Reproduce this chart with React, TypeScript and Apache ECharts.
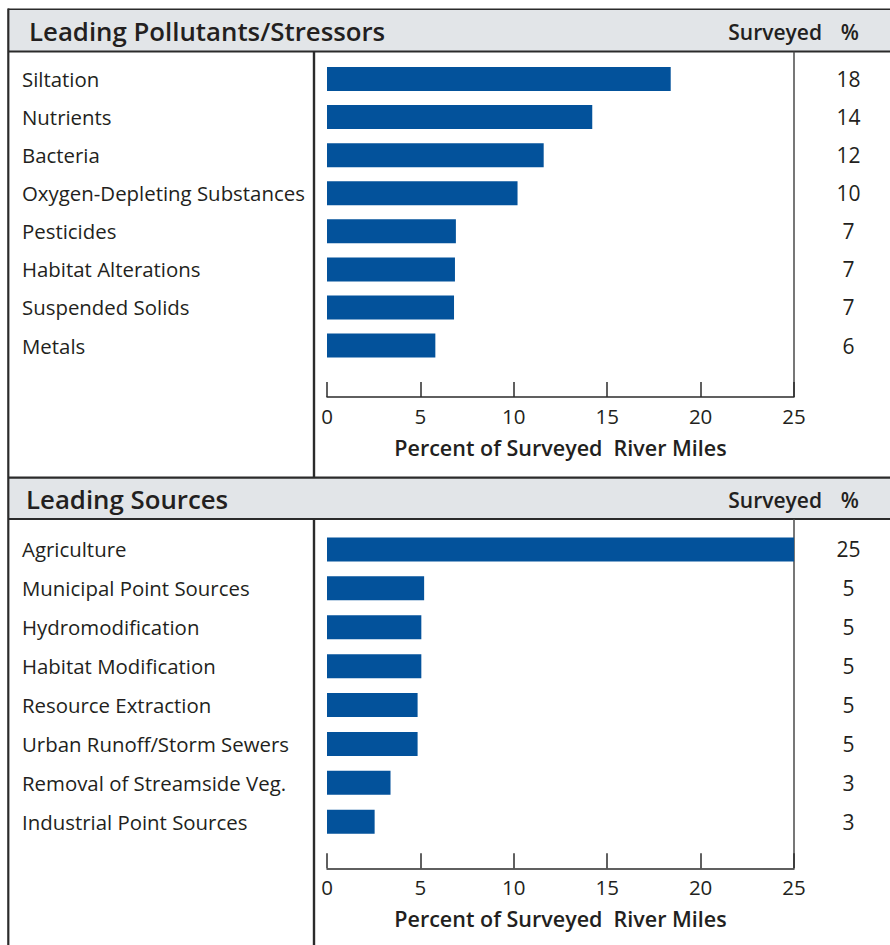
import React, { useEffect, useRef } from "react";
import * as echarts from "echarts";

const pollutantCategories = [
  "Siltation",
  "Nutrients",
  "Bacteria",
  "Oxygen-Depleting Substances",
  "Pesticides",
  "Habitat Alterations",
  "Suspended Solids",
  "Metals",
];
const pollutantValues = [18.4, 14.2, 11.6, 10.2, 6.9, 6.85, 6.8, 5.8];
const pollutantPct = ["18", "14", "12", "10", "7", "7", "7", "6"];

const sourceCategories = [
  "Agriculture",
  "Municipal Point Sources",
  "Hydromodification",
  "Habitat Modification",
  "Resource Extraction",
  "Urban Runoff/Storm Sewers",
  "Removal of Streamside Veg.",
  "Industrial Point Sources",
];
const sourceValues = [25, 5.2, 5.05, 5.05, 4.85, 4.85, 3.4, 2.55];
const sourcePct = ["25", "5", "5", "5", "5", "5", "3", "3"];

const xTicks = { min: 0, max: 25, interval: 5 };
const panelTitles = ["Leading Pollutants/Stressors", "Leading Sources"];
const columnHeader = ["Surveyed", "%"];
const axisTitle = "Percent of Surveyed  River Miles";

const FONT = "'Open Sans', 'Noto Sans', sans-serif";
const TEXT = "#231f20";
const BAR = "#03529b";
const LINE = "#2b2b2b";
const HEADER_BG = "#e2e5e8";

export default function App() {
  const ref = useRef<HTMLDivElement>(null);

  useEffect(() => {
    if (!ref.current) return;
    const chart = echarts.init(ref.current, undefined, { renderer: "svg" });

    const grids = [
      { left: 327, right: 96, top: 60, height: 304.6 },
      { left: 327, right: 96, top: 530, height: 311.2 },
    ];
    const axisOffsets = [32.4, 27.1];

    const xAxis = grids.map((_, i) => ({
      type: "value",
      gridIndex: i,
      min: xTicks.min,
      max: xTicks.max,
      interval: xTicks.interval,
      offset: axisOffsets[i],
      name: axisTitle,
      nameLocation: "middle",
      nameGap: 39,
      nameTextStyle: { fontFamily: FONT, fontSize: 21.5, fontWeight: 600, color: TEXT },
      axisLine: { show: true, lineStyle: { color: LINE, width: 1.5 } },
      axisTick: { show: true, inside: true, length: 15, lineStyle: { color: LINE, width: 1.5 } },
      splitLine: { show: false },
      axisLabel: { fontFamily: FONT, fontSize: 20.5, color: TEXT, margin: 8 },
    }));

    const cats = [pollutantCategories, sourceCategories];
    const pcts = [pollutantPct, sourcePct];
    const vals = [pollutantValues, sourceValues];

    const yAxis: any[] = [];
    cats.forEach((c, i) => {
      yAxis.push({
        type: "category",
        gridIndex: i,
        data: c,
        inverse: true,
        position: "left",
        axisLine: { show: false },
        axisTick: { show: false },
        splitLine: { show: false },
        axisLabel: {
          align: "left",
          margin: 305,
          fontFamily: FONT,
          fontSize: 20.4,
          color: TEXT,
        },
      });
    });
    pcts.forEach((p, i) => {
      yAxis.push({
        type: "category",
        gridIndex: i,
        data: p,
        inverse: true,
        position: "right",
        axisLine: { show: false },
        axisTick: { show: false },
        splitLine: { show: false },
        axisLabel: {
          align: "center",
          margin: 54.5,
          fontFamily: FONT,
          fontSize: 21,
          color: TEXT,
        },
      });
    });

    const series = vals.map((v, i) => ({
      type: "bar",
      xAxisIndex: i,
      yAxisIndex: i,
      data: v,
      barWidth: 24,
      itemStyle: { color: BAR },
      silent: true,
    }));

    const line = (x1: number, y1: number, x2: number, y2: number, w: number, c = LINE) => ({
      type: "line",
      silent: true,
      shape: { x1, y1, x2, y2 },
      style: { stroke: c, lineWidth: w },
    });

    const headerTops = [9.3, 477.7];
    const headerBottoms = [51.5, 519];
    const graphic: any[] = [];
    headerTops.forEach((t, i) => {
      const cy = (t + headerBottoms[i]) / 2;
      graphic.push({
        type: "rect",
        silent: true,
        shape: { x: 8, y: t, width: 882, height: headerBottoms[i] - t },
        style: { fill: HEADER_BG },
      });
      graphic.push({
        type: "text",
        silent: true,
        x: i === 0 ? 29 : 26,
        y: cy + 0.5,
        style: {
          text: panelTitles[i],
          fontFamily: FONT,
          fontSize: 25.8,
          fontWeight: 600,
          fill: TEXT,
          verticalAlign: "middle",
          align: "left",
        },
      });
      graphic.push({
        type: "text",
        silent: true,
        x: 822,
        y: cy + 1.5,
        style: {
          text: columnHeader[0],
          fontFamily: FONT,
          fontSize: 21,
          fontWeight: 600,
          fill: TEXT,
          verticalAlign: "middle",
          align: "right",
        },
      });
      graphic.push({
        type: "text",
        silent: true,
        x: 859,
        y: cy + 1.5,
        style: {
          text: columnHeader[1],
          fontFamily: FONT,
          fontSize: 21,
          fontWeight: 600,
          fill: TEXT,
          verticalAlign: "middle",
          align: "right",
        },
      });
    });
    graphic.push(line(8, 9.3, 890, 9.3, 1.5));
    graphic.push(line(8.3, 8.5, 8.3, 945, 2.2));
    graphic.push(line(8, 51.5, 890, 51.5, 2.2));
    graphic.push(line(8, 477.7, 890, 477.7, 2.2));
    graphic.push(line(8, 519, 890, 519, 2.2));
    graphic.push(line(314, 51.5, 314, 477.7, 2.4));
    graphic.push(line(314, 519, 314, 945, 2.4));
    graphic.push(line(794, 51.5, 794, 397, 1.5, "#4a4a4a"));
    graphic.push(line(794, 519, 794, 868.3, 1.5, "#4a4a4a"));

    chart.setOption({
      animation: false,
      backgroundColor: "#ffffff",
      grid: grids,
      xAxis,
      yAxis,
      series,
      graphic,
    });

    return () => chart.dispose();
  }, []);

  return (
    <div
      ref={ref}
      style={{ position: "absolute", left: 0, top: 0, width: 890, height: 945 }}
    />
  );
}
